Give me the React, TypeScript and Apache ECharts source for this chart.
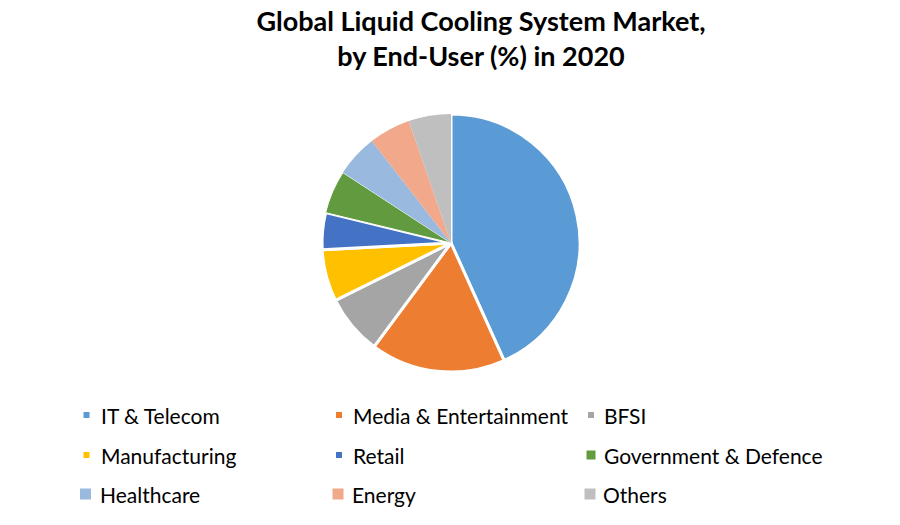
import * as echarts from 'echarts';
import React, { useEffect, useRef } from 'react';

const categories = [
  'IT & Telecom',
  'Media & Entertainment',
  'BFSI',
  'Manufacturing',
  'Retail',
  'Government & Defence',
  'Healthcare',
  'Energy',
  'Others',
];
const shares = [43.2, 16.9, 7.5, 6.5, 4.6, 5.4, 5.3, 5.2, 5.3];
const colors = [
  '#5B9BD5',
  '#ED7D31',
  '#A5A5A5',
  '#FFC000',
  '#4472C4',
  '#629B3F',
  '#9AB9DF',
  '#F1A88B',
  '#BFBFBF',
];
// slices that Excel drew with a white edge
const borders = [3, 3, 3, 3, 3, 1, 0, 0, 0];
// legend marker size per entry
const markerSizes = [8, 8, 8, 8, 8, 11, 11, 11, 11];

const FONT = 'Lato, "Open Sans", sans-serif';
const colCenters = [85.5, 338, 590];
const colText = [100, 352, 603];
const rowCenters = [415, 455, 494];

const App: React.FC = () => {
  const chartRef = useRef<HTMLDivElement>(null);

  useEffect(() => {
    if (!chartRef.current) return;
    const chart = echarts.init(chartRef.current, null, { renderer: 'svg' });

    const legends = categories.map((name, i) => {
      const col = i % 3;
      const row = Math.floor(i / 3);
      const w = markerSizes[i];
      const left = colCenters[col] - w / 2;
      return {
        data: [name],
        left,
        top: rowCenters[row] - 12,
        padding: 0,
        itemWidth: w,
        itemHeight: w,
        icon: 'rect',
        selectedMode: false,
        textStyle: {
          fontFamily: FONT,
          fontSize: 21,
          color: '#000',
          lineHeight: 24,
          padding: [0, 0, 0, colText[col] - left - w - 5],
        },
      };
    });

    const option: echarts.EChartsOption = {
      animation: false,
      backgroundColor: '#fff',
      title: {
        text: 'Global Liquid Cooling System Market,\nby End-User (%) in 2020',
        left: 476,
        textAlign: 'center',
        top: -2,
        textStyle: {
          fontFamily: FONT,
          fontSize: 27,
          fontWeight: 'bold',
          color: '#000',
          lineHeight: 35,
        },
      },
      legend: legends as any,
      series: [
        {
          type: 'pie',
          center: [451, 243],
          radius: 129,
          startAngle: 90,
          clockwise: true,
          label: { show: false },
          labelLine: { show: false },
          emphasis: { disabled: true },
          data: categories.map((name, i) => ({
            name,
            value: shares[i],
            itemStyle: {
              color: colors[i],
              borderColor: '#fff',
              borderWidth: borders[i],
            },
          })),
        },
      ],
    };

    chart.setOption(option);
    return () => chart.dispose();
  }, []);

  return (
    <div
      ref={chartRef}
      style={{ position: 'fixed', left: 0, top: 0, width: 900, height: 525 }}
    />
  );
};

export default App;
